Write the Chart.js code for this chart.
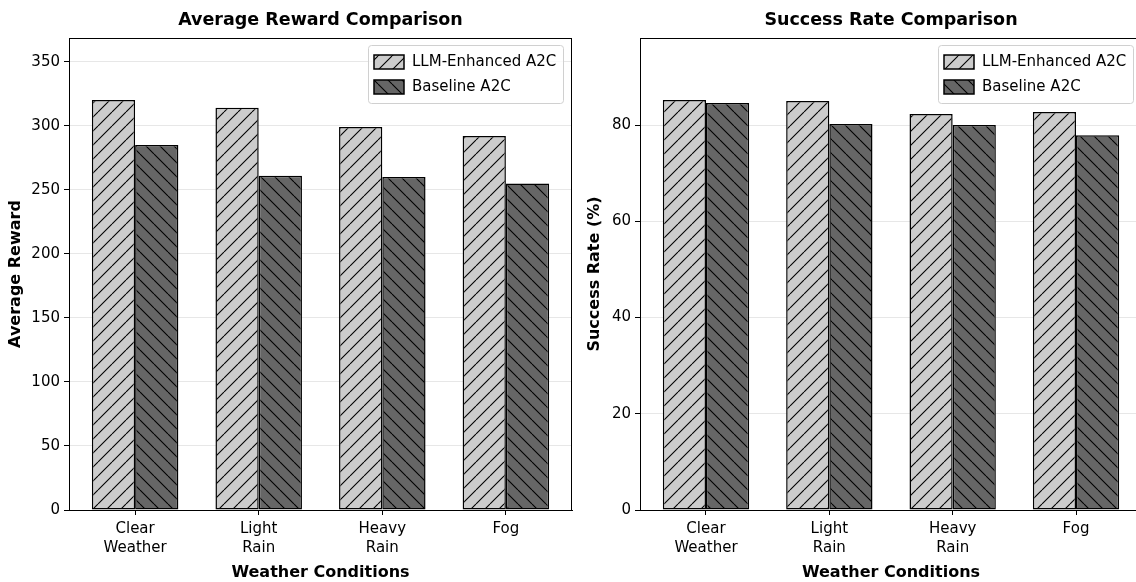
<!DOCTYPE html>
<html lang="en">
<head>
    <meta charset="UTF-8">
    <title>Weather Comparison</title>
    <script src="https://cdn.jsdelivr.net/npm/chart.js"></script>
    <style>
        html, body { margin: 0; padding: 0; background: #fff; overflow: hidden; width: 1136px; height: 582px; }
        .panel { position: absolute; top: 0; height: 582px; }
        #left { left: 0; width: 580px; }
        #right { left: 580px; width: 562px; }
    </style>
</head>
<body>
    <div class="panel" id="left"><canvas id="rewardChart"></canvas></div>
    <div class="panel" id="right"><canvas id="successChart"></canvas></div>
    <script>
        // data
        const categories = [['Clear', 'Weather'], ['Light', 'Rain'], ['Heavy', 'Rain'], ['Fog']];
        const seriesNames = ['LLM-Enhanced A2C', 'Baseline A2C'];
        const rewardLLM = [320, 314, 299, 292];
        const rewardBaseline = [285, 261, 260, 255];
        const successLLM = [85.2, 85.0, 82.3, 82.7];
        const successBaseline = [84.6, 80.2, 80.0, 77.9];
        const rewardTicks = [0, 50, 100, 150, 200, 250, 300, 350];
        const successTicks = [0, 20, 40, 60, 80];

        const FONT = "'DejaVu Sans', sans-serif";
        Chart.defaults.font.family = FONT;
        Chart.defaults.color = '#000';
        Chart.defaults.animation = false;

        // hatch fills, like matplotlib '//' and '\\'
        function hatch(bg, dir) {
            const s = 14;
            const c = document.createElement('canvas');
            c.width = s; c.height = s;
            const g = c.getContext('2d');
            g.fillStyle = bg;
            g.fillRect(0, 0, s, s);
            g.strokeStyle = '#000';
            g.lineWidth = 1.1;
            g.beginPath();
            for (let k = -1; k <= 1; k++) {
                if (dir === '/') { g.moveTo(k * s, s); g.lineTo(k * s + s, 0); }
                else { g.moveTo(k * s, 0); g.lineTo(k * s + s, s); }
            }
            g.stroke();
            return g.createPattern(c, 'repeat');
        }

        // title above the axes, box spines, legend inside the plot
        const framePlugin = {
            id: 'frame',
            afterDraw(chart, args, opts) {
                const a = chart.chartArea, ctx = chart.ctx;
                ctx.save();
                ctx.strokeStyle = '#000';
                ctx.lineWidth = 1;
                ctx.beginPath();
                ctx.moveTo(a.left, a.top + 0.5);
                ctx.lineTo(a.right, a.top + 0.5);
                ctx.moveTo(a.right - 0.5, a.top);
                ctx.lineTo(a.right - 0.5, a.bottom);
                ctx.stroke();

                ctx.font = 'bold 17.5px ' + FONT;
                ctx.fillStyle = '#000';
                ctx.textAlign = 'center';
                ctx.textBaseline = 'middle';
                ctx.fillText(opts.title, (a.left + a.right) / 2, 20);

                // legend
                const w = 195, h = 58;
                const x = a.right - 9 - w, y = a.top + 7;
                ctx.fillStyle = 'rgba(255,255,255,0.8)';
                ctx.strokeStyle = '#d0d0d0';
                ctx.lineWidth = 1;
                ctx.beginPath();
                ctx.roundRect(x + 0.5, y + 0.5, w, h, 3);
                ctx.fill();
                ctx.stroke();
                ctx.font = '15px ' + FONT;
                ctx.textAlign = 'left';
                chart.data.datasets.forEach((ds, i) => {
                    const by = y + 10 + i * 25;
                    ctx.fillStyle = ds.backgroundColor;
                    ctx.fillRect(x + 6, by, 30, 14);
                    ctx.strokeStyle = '#000';
                    ctx.lineWidth = 1.5;
                    ctx.strokeRect(x + 6, by, 30, 14);
                    ctx.fillStyle = '#000';
                    ctx.fillText(ds.label, x + 44, by + 7);
                });
                ctx.restore();
            }
        };

        function makeChart(id, title, yTitle, llm, base, yTicks, yMax, yWidth, yTitlePad, padRight) {
            const ctx = document.getElementById(id).getContext('2d');
            return new Chart(ctx, {
                type: 'bar',
                data: {
                    datasets: [{
                        label: seriesNames[0],
                        data: llm.map((v, i) => ({ x: i, y: v })),
                        backgroundColor: hatch('#cccccc', '/'),
                        borderColor: '#000',
                        borderWidth: 1.5,
                        borderSkipped: false
                    }, {
                        label: seriesNames[1],
                        data: base.map((v, i) => ({ x: i, y: v })),
                        backgroundColor: hatch('#666666', '\\'),
                        borderColor: '#000',
                        borderWidth: 1.5,
                        borderSkipped: false
                    }]
                },
                options: {
                    responsive: true,
                    maintainAspectRatio: false,
                    categoryPercentage: 0.7,
                    barPercentage: 1.0,
                    layout: { padding: { top: 38, right: padRight, left: 0, bottom: 0 } },
                    plugins: {
                        legend: { display: false },
                        tooltip: { enabled: false },
                        frame: { title: title }
                    },
                    scales: {
                        x: {
                            type: 'linear',
                            min: -0.535,
                            max: 3.535,
                            offset: false,
                            afterBuildTicks: s => { s.ticks = categories.map((c, i) => ({ value: i })); },
                            afterFit: s => { s.height = 72; },
                            ticks: {
                                font: { size: 15, lineHeight: 1.27 },
                                padding: 5,
                                maxRotation: 0,
                                autoSkip: false,
                                callback: v => categories[v]
                            },
                            grid: { drawOnChartArea: false, tickLength: 5, tickColor: '#000', offset: false },
                            border: { color: '#000', width: 1 },
                            title: {
                                display: true,
                                text: 'Weather Conditions',
                                font: { size: 16, weight: 'bold' },
                                padding: { top: 0, bottom: 0 }
                            }
                        },
                        y: {
                            min: 0,
                            max: yMax,
                            z: 1,
                            afterBuildTicks: s => { s.ticks = yTicks.map(v => ({ value: v })); },
                            afterFit: s => { s.width = yWidth; },
                            ticks: { font: { size: 15 }, padding: 4 },
                            grid: { color: 'rgba(176,176,176,0.3)', tickLength: 5, tickColor: '#000' },
                            border: { color: '#000', width: 1 },
                            title: {
                                display: true,
                                text: yTitle,
                                font: { size: 16, weight: 'bold' },
                                padding: { top: yTitlePad, bottom: 0 }
                            }
                        }
                    }
                },
                plugins: [framePlugin]
            });
        }

        makeChart('rewardChart', 'Average Reward Comparison', 'Average Reward',
            rewardLLM, rewardBaseline, rewardTicks, 368.5, 69, 6, 8);
        makeChart('successChart', 'Success Rate Comparison', 'Success Rate (%)',
            successLLM, successBaseline, successTicks, 98.1, 60, 5, 0);
    </script>
</body>
</html>
